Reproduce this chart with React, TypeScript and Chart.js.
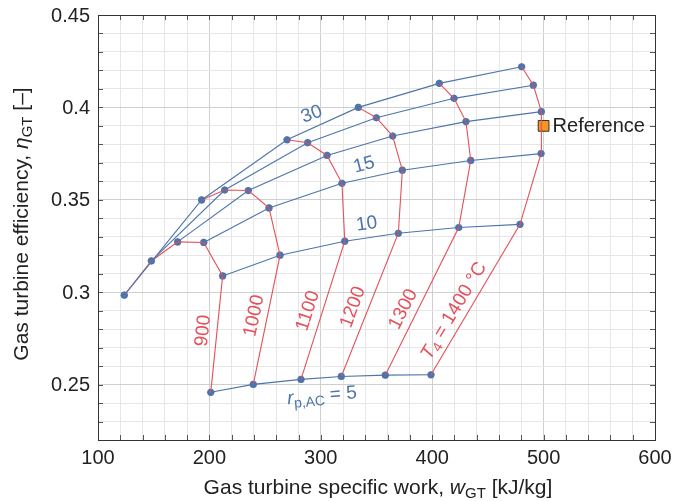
import React, { useEffect, useRef } from "react";
import { Chart, registerables } from "chart.js";

Chart.register(...registerables);

// Constant turbine-inlet temperature T4 [°C]; each array is ordered by compressor pressure ratio
const T4_LEVELS = [900, 1000, 1100, 1200, 1300, 1400];
const RP_LEVELS = [5, 10, 15, 20, 25, 30];

const w900 = [201.2, 211.9, 194.9, 171.5, 147.9, 123.6];
const eta900 = [0.2458, 0.3088, 0.3269, 0.3272, 0.3169, 0.2984];
const w1000 = [239.4, 263.4, 253.5, 234.9, 213.7, 193.0];
const eta1000 = [0.2501, 0.32, 0.3456, 0.355, 0.3553, 0.3499];
const w1100 = [282.2, 321.5, 319.0, 305.6, 288.2, 269.7];
const eta1100 = [0.2528, 0.3276, 0.3589, 0.374, 0.3809, 0.3825];
const w1200 = [318.4, 369.6, 373.2, 364.5, 349.9, 333.7];
const eta1200 = [0.2544, 0.3319, 0.366, 0.3845, 0.3944, 0.4];
const w1300 = [357.9, 423.8, 434.6, 430.3, 419.6, 406.4];
const eta1300 = [0.2551, 0.335, 0.3713, 0.3923, 0.4049, 0.413];
const w1400 = [398.9, 478.8, 497.7, 498.0, 490.8, 480.3];
const eta1400 = [0.2553, 0.3367, 0.375, 0.3977, 0.412, 0.422];

const W_ROWS = [w900, w1000, w1100, w1200, w1300, w1400];
const ETA_ROWS = [eta900, eta1000, eta1100, eta1200, eta1300, eta1400];

const REF_W = [500];
const REF_ETA = [0.39];

const X_TICKS = [100, 200, 300, 400, 500, 600];
const Y_TICKS = [0.25, 0.3, 0.35, 0.4, 0.45];

const BLUE = "#4d75ab";
const RED = "#e5505a";
const FONT = '"Liberation Sans", Arial, sans-serif';

type Part = { t: string; it?: boolean; sub?: boolean };

function drawRich(ctx: CanvasRenderingContext2D, x: number, y: number, angle: number, parts: Part[], size: number, color: string, align = "center") {
  ctx.save();
  ctx.translate(x, y);
  ctx.rotate((angle * Math.PI) / 180);
  ctx.fillStyle = color;
  ctx.textBaseline = "middle";
  ctx.textAlign = "left";
  const fontOf = (p: Part) => `${p.it ? "italic " : ""}${p.sub ? Math.round(size * 0.72) : size}px ${FONT}`;
  let total = 0;
  const widths = parts.map((p) => {
    ctx.font = fontOf(p);
    const w = ctx.measureText(p.t).width;
    total += w;
    return w;
  });
  let cx = align === "center" ? -total / 2 : align === "right" ? -total : 0;
  parts.forEach((p, i) => {
    ctx.font = fontOf(p);
    ctx.fillText(p.t, cx, p.sub ? size * 0.28 : 0);
    cx += widths[i];
  });
  ctx.restore();
}

// label anchors in data units
const LABELS: { x: number; y: number; a: number; parts: Part[]; c: string }[] = [
  { x: 291.8, y: 0.3962, a: -20, parts: [{ t: "30" }], c: BLUE },
  { x: 338.8, y: 0.3688, a: -15, parts: [{ t: "15" }], c: BLUE },
  { x: 341.2, y: 0.3368, a: -8, parts: [{ t: "10" }], c: BLUE },
  { x: 301.1, y: 0.2438, a: -5, parts: [{ t: "r", it: true }, { t: "p,AC", sub: true }, { t: " = 5" }], c: BLUE },
  { x: 194.5, y: 0.2791, a: -84, parts: [{ t: "900" }], c: RED },
  { x: 240.3, y: 0.2872, a: -78, parts: [{ t: "1000" }], c: RED },
  { x: 288.5, y: 0.2899, a: -72, parts: [{ t: "1100" }], c: RED },
  { x: 328.9, y: 0.2919, a: -70, parts: [{ t: "1200" }], c: RED },
  { x: 374.1, y: 0.2908, a: -63, parts: [{ t: "1300" }], c: RED },
  { x: 419.6, y: 0.2899, a: -59, parts: [{ t: "T", it: true }, { t: "4", sub: true }, { t: " = 1400 °C" }], c: RED },
];

const decorPlugin = {
  id: "decor",
  afterDatasetsDraw(chart: any) {
    const ctx = chart.ctx as CanvasRenderingContext2D;
    const xs = chart.scales.x;
    const ys = chart.scales.y;
    LABELS.forEach((l) => {
      drawRich(ctx, xs.getPixelForValue(l.x), ys.getPixelForValue(l.y), l.a, l.parts, 19, l.c);
    });
    drawRich(ctx, xs.getPixelForValue(REF_W[0]) + 9, ys.getPixelForValue(REF_ETA[0]) + 1, 0, [{ t: "Reference" }], 20, "#222", "left");
  },
  afterDraw(chart: any) {
    const ctx = chart.ctx as CanvasRenderingContext2D;
    const { left, right, top, bottom } = chart.chartArea;
    const xs = chart.scales.x;
    const ys = chart.scales.y;
    ctx.save();
    ctx.strokeStyle = "#555";
    ctx.lineWidth = 1;
    ctx.beginPath();
    for (let v = 100; v <= 600; v += 20) {
      const px = Math.round(xs.getPixelForValue(v)) + 0.5;
      ctx.moveTo(px, bottom);
      ctx.lineTo(px, bottom - 5);
      ctx.moveTo(px, top);
      ctx.lineTo(px, top + 5);
    }
    for (let k = 22; k <= 45; k += 1) {
      const py = Math.round(ys.getPixelForValue(k / 100)) + 0.5;
      ctx.moveTo(left, py);
      ctx.lineTo(left + 5, py);
      ctx.moveTo(right, py);
      ctx.lineTo(right - 5, py);
    }
    ctx.stroke();
    ctx.strokeStyle = "#333";
    ctx.strokeRect(Math.round(left) + 0.5, Math.round(top) + 0.5, Math.round(right - left), Math.round(bottom - top));
    ctx.restore();
    // tick labels
    X_TICKS.forEach((v) => {
      drawRich(ctx, xs.getPixelForValue(v), bottom + 18, 0, [{ t: String(v) }], 20, "#222");
    });
    Y_TICKS.forEach((v) => {
      drawRich(ctx, left - 8, ys.getPixelForValue(v) + 1, 0, [{ t: String(v) }], 20, "#222", "right");
    });
    // axis titles
    drawRich(ctx, 378, 488, 0, [{ t: "Gas turbine specific work, " }, { t: "w", it: true }, { t: "GT", sub: true }, { t: " [kJ/kg]" }], 21, "#222");
    drawRich(ctx, 22, 224, -90, [{ t: "Gas turbine efficiency, " }, { t: "η", it: true }, { t: "GT", sub: true }, { t: " [–]" }], 21, "#222");
  },
};

export default function App() {
  const ref = useRef<HTMLCanvasElement | null>(null);
  useEffect(() => {
    if (!ref.current) return;
    const datasets: any[] = [];
    RP_LEVELS.forEach((rp, j) => {
      datasets.push({
        label: `rp=${rp}`,
        data: W_ROWS.map((row, i) => ({ x: row[j], y: ETA_ROWS[i][j] })),
        showLine: true,
        borderColor: BLUE,
        borderWidth: 1.1,
        pointRadius: 0,
        fill: false,
      });
    });
    T4_LEVELS.forEach((t, i) => {
      datasets.push({
        label: `T4=${t}`,
        data: W_ROWS[i].map((w, j) => ({ x: w, y: ETA_ROWS[i][j] })),
        showLine: true,
        borderColor: RED,
        borderWidth: 1.1,
        pointRadius: 0,
        fill: false,
      });
    });
    const allPts = W_ROWS.flatMap((row, i) => row.map((w, j) => ({ x: w, y: ETA_ROWS[i][j] })));
    datasets.push({
      label: "markers",
      data: allPts,
      showLine: false,
      pointStyle: "circle",
      pointRadius: 3.6,
      backgroundColor: BLUE,
      borderColor: BLUE,
      borderWidth: 0,
    });
    datasets.push({
      label: "crosses",
      data: allPts,
      showLine: false,
      pointStyle: "cross",
      pointRadius: 3.6,
      borderColor: RED,
      borderWidth: 1,
    });
    datasets.push({
      label: "Reference",
      data: REF_W.map((w, i) => ({ x: w, y: REF_ETA[i] })),
      showLine: false,
      pointStyle: "rect",
      pointRadius: 7.6,
      backgroundColor: "#f7931e",
      borderColor: "#333",
      borderWidth: 1,
    });

    const chart = new Chart(ref.current, {
      type: "scatter",
      data: { datasets },
      options: {
        animation: false,
        responsive: false,
        layout: { padding: { top: 15, right: 19, left: 0, bottom: 0 } },
        plugins: { legend: { display: false }, tooltip: { enabled: false } },
        scales: {
          x: {
            type: "linear",
            min: 100,
            max: 600,
            afterFit: (s: any) => { s.height = 61; },
            border: { display: false },
            grid: {
              drawTicks: false,
              color: (c: any) => (Math.round(c.tick.value) % 100 === 0 ? "#cfcfcf" : "#e6e6e6"),
              lineWidth: 1,
            },
            ticks: { stepSize: 20, autoSkip: false, display: false },
          },
          y: {
            type: "linear",
            min: 0.22,
            max: 0.45,
            afterFit: (s: any) => { s.width = 98; },
            border: { display: false },
            grid: {
              drawTicks: false,
              color: (c: any) => (Math.round(c.tick.value * 100) % 5 === 0 ? "#cfcfcf" : "#e6e6e6"),
              lineWidth: 1,
            },
            ticks: { stepSize: 0.01, autoSkip: false, display: false },
          },
        },
      },
      plugins: [decorPlugin],
    });
    return () => chart.destroy();
  }, []);
  return (
    <div style={{ position: "absolute", left: 0, top: 0, width: 674, height: 501, background: "#fff" }}>
      <canvas ref={ref} width={674} height={501} />
    </div>
  );
}
